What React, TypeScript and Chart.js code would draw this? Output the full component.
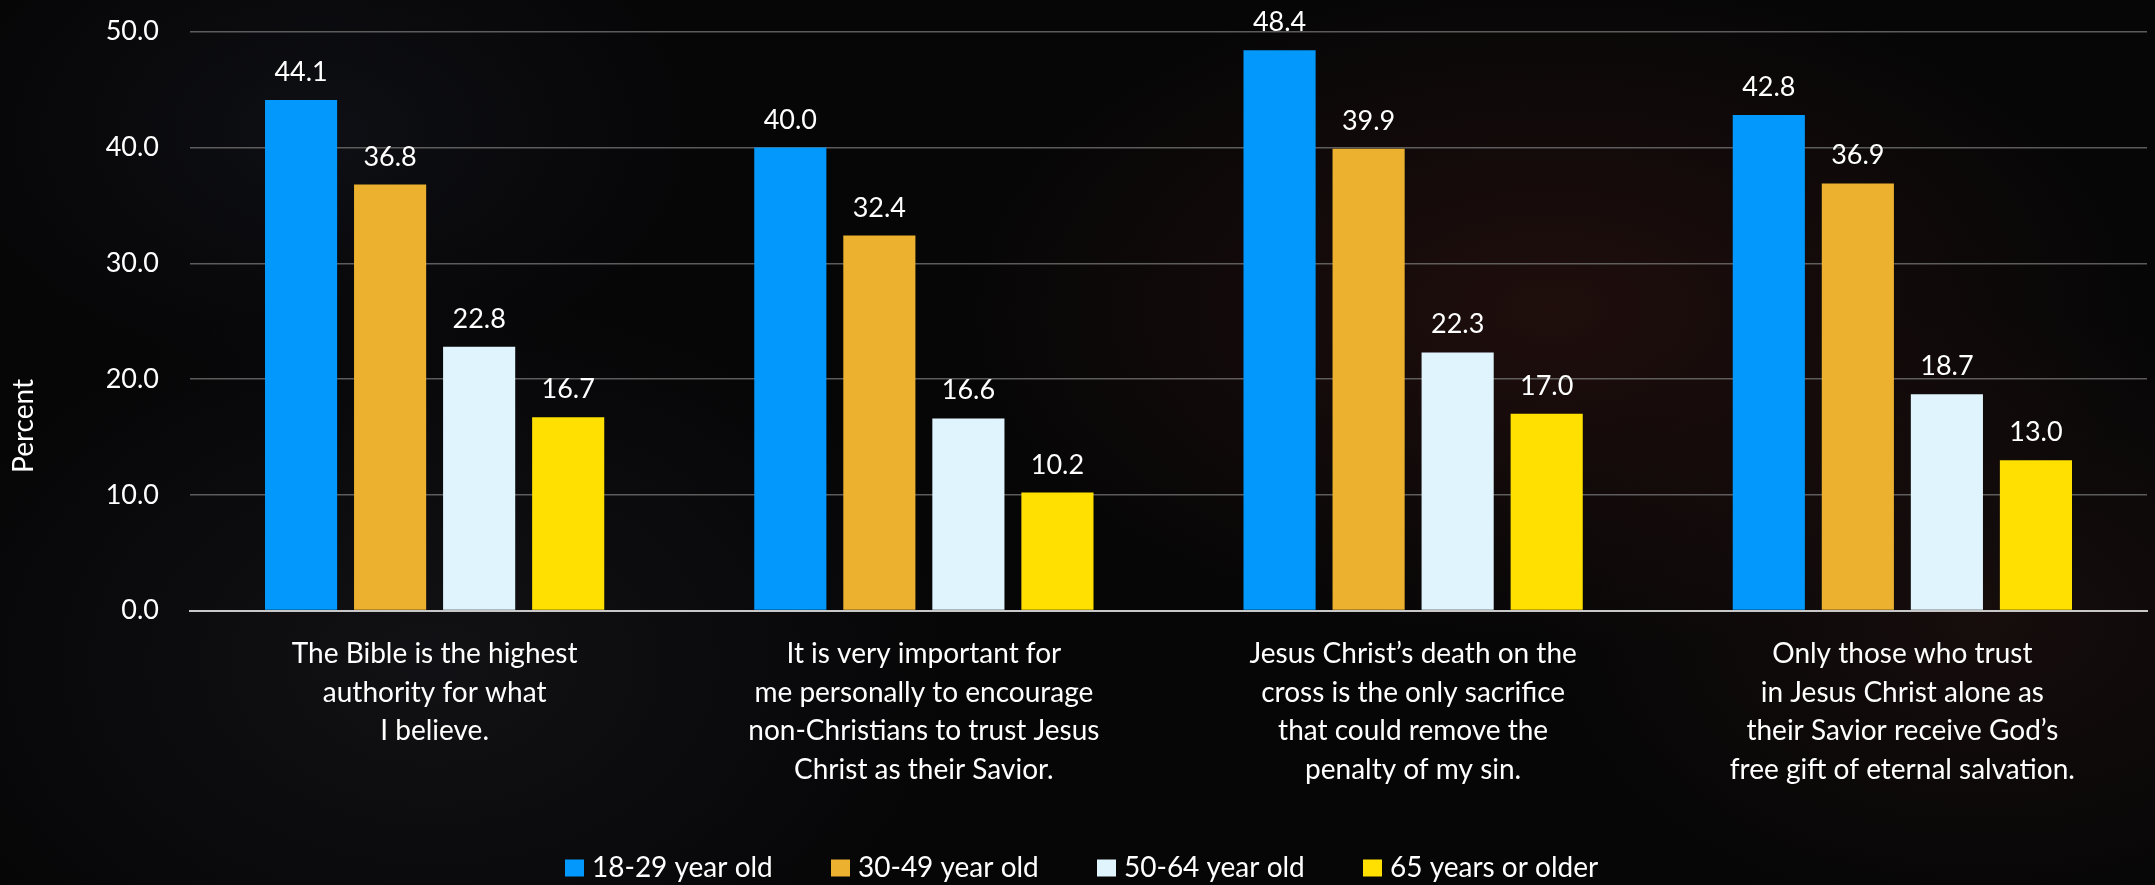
import React, { useEffect, useRef } from "react";
import { Chart, registerables } from "chart.js";

Chart.register(...registerables);

const categories: string[][] = [
  ["The Bible is the highest", "authority for what", "I believe."],
  ["It is very important for", "me personally to encourage", "non-Christians to trust Jesus", "Christ as their Savior."],
  ["Jesus Christ\u2019s death on the", "cross is the only sacrifice", "that could remove the", "penalty of my sin."],
  ["Only those who trust", "in Jesus Christ alone as", "their Savior receive God\u2019s", "free gift of eternal salvation."],
];

const seriesNames = ["18-29 year old", "30-49 year old", "50-64 year old", "65 years or older"];
const age18to29 = [44.1, 40.0, 48.4, 42.8];
const age30to49 = [36.8, 32.4, 39.9, 36.9];
const age50to64 = [22.8, 16.6, 22.3, 18.7];
const age65plus = [16.7, 10.2, 17.0, 13.0];
const seriesColors = ["#0399FC", "#EBB12F", "#E0F4FE", "#FFE000"];

const yMin = 0;
const yMax = 50;
const yStep = 10;
const yTitle = "Percent";

const FONT = "Lato";

const W = 2155;
const H = 885;

const dataLabelPlugin = {
  id: "dataLabels",
  afterDatasetsDraw(chart: any) {
    const ctx = chart.ctx;
    ctx.save();
    ctx.font = `27px ${FONT}`;
    ctx.fillStyle = "#ffffff";
    ctx.textAlign = "center";
    ctx.textBaseline = "alphabetic";
    chart.data.datasets.forEach((ds: any, i: number) => {
      const meta = chart.getDatasetMeta(i);
      meta.data.forEach((el: any, j: number) => {
        ctx.fillText(Number(ds.data[j]).toFixed(1), el.x, el.y - 19);
      });
    });
    ctx.restore();
  },
};

const yTitlePlugin = {
  id: "yTitleCustom",
  afterDraw(chart: any) {
    const ctx = chart.ctx;
    ctx.save();
    ctx.translate(23.5, 426);
    ctx.rotate(-Math.PI / 2);
    ctx.font = `28px ${FONT}`;
    ctx.fillStyle = "#ffffff";
    ctx.textAlign = "center";
    ctx.textBaseline = "middle";
    ctx.fillText(yTitle, 0, 0);
    ctx.restore();
  },
};

const legendPlugin = {
  id: "customLegend",
  afterDraw(chart: any) {
    const ctx = chart.ctx;
    ctx.save();
    ctx.font = `28px ${FONT}`;
    ctx.textAlign = "left";
    ctx.textBaseline = "middle";
    const startX = 565;
    const pitch = 266;
    const cy = 868;
    chart.data.datasets.forEach((ds: any, i: number) => {
      const x = startX + i * pitch;
      ctx.fillStyle = ds.backgroundColor;
      ctx.fillRect(x, cy - 8.5, 19, 17);
      ctx.fillStyle = "#ffffff";
      ctx.fillText(ds.label, x + 27, cy);
    });
    ctx.restore();
  },
};

export default function App() {
  const canvasRef = useRef<HTMLCanvasElement | null>(null);

  useEffect(() => {
    const canvas = canvasRef.current;
    if (!canvas) return;
    const seriesData = [age18to29, age30to49, age50to64, age65plus];
    const chart = new Chart(canvas, {
      type: "bar",
      data: {
        labels: categories,
        datasets: seriesData.map((d, i) => ({
          label: seriesNames[i],
          data: d,
          backgroundColor: seriesColors[i],
          borderWidth: 0,
          categoryPercentage: 0.728,
          barPercentage: 0.81,
        })),
      },
      options: {
        responsive: false,
        animation: false,
        devicePixelRatio: 1,
        layout: { padding: { top: 31.7, right: 8, bottom: 60, left: 0 } },
        plugins: {
          legend: { display: false },
          tooltip: { enabled: false },
          title: { display: false },
        },
        scales: {
          x: {
            grid: { display: false, drawTicks: false },
            border: { display: true, color: "#c8c8c8", width: 2 },
            ticks: {
              color: "#ffffff",
              font: { family: FONT, size: 28, lineHeight: 1.38 },
              padding: 24,
              maxRotation: 0,
              autoSkip: false,
            },
            afterFit(scale: any) {
              scale.height = H - 60 - 610.7;
            },
          },
          y: {
            min: yMin,
            max: yMax,
            grid: {
              drawTicks: false,
              color: (c: any) => (c.tick && c.tick.value === 0 ? "#c8c8c8" : "rgba(120,120,120,0.75)"),
              lineWidth: (c: any) => (c.tick && c.tick.value === 0 ? 2 : 1.5),
            },
            border: { display: false },
            ticks: {
              stepSize: yStep,
              color: "#ffffff",
              font: { family: FONT, size: 27 },
              padding: 31,
              callback: (v: any) => Number(v).toFixed(1),
            },
            afterFit(scale: any) {
              scale.width = 190;
              scale.paddingTop = 0;
              scale.paddingBottom = 0;
            },
          },
        },
      },
      plugins: [dataLabelPlugin, yTitlePlugin, legendPlugin],
    });
    return () => chart.destroy();
  }, []);

  return (
    <div
      style={{
        position: "absolute",
        left: 0,
        top: 0,
        width: W,
        height: H,
        overflow: "hidden",
        background:
          "radial-gradient(ellipse 40% 55% at 72% 35%, rgba(72,28,22,0.38), rgba(0,0,0,0) 70%), radial-gradient(ellipse 30% 50% at 92% 70%, rgba(60,30,25,0.3), rgba(0,0,0,0) 70%), radial-gradient(ellipse 35% 60% at 20% 75%, rgba(45,45,55,0.3), rgba(0,0,0,0) 70%), radial-gradient(ellipse 25% 40% at 15% 15%, rgba(40,42,60,0.25), rgba(0,0,0,0) 70%), #060607",
      }}
    >
      <canvas ref={canvasRef} width={W} height={H} style={{ width: W, height: H, display: "block" }} />
    </div>
  );
}
